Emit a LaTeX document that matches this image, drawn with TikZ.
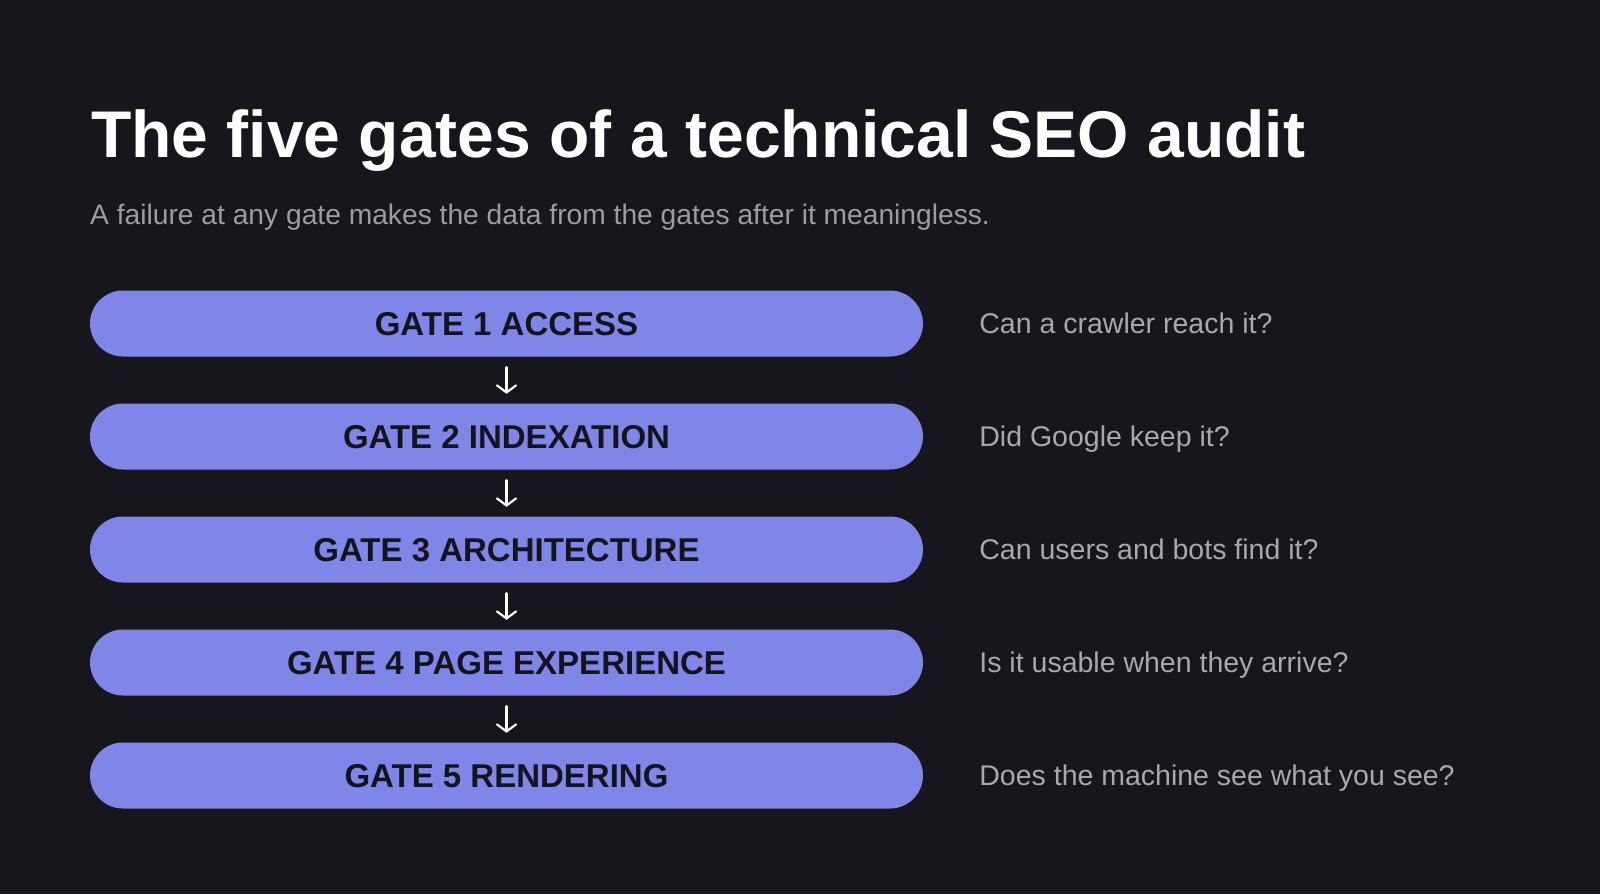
\documentclass[tikz,border=0pt]{standalone}
\usepackage{fontspec}
\setmainfont{Liberation Sans}
\usetikzlibrary{positioning,arrows.meta}

\definecolor{slidebg}{HTML}{16161C}
\definecolor{gatefill}{HTML}{8085E8}
\definecolor{gatetext}{HTML}{14141E}
\definecolor{subgray}{HTML}{9C9CA2}
\definecolor{hintgray}{HTML}{A8A8AE}

\tikzset{
    gatebox/.style={fill=gatefill, rounded corners=33pt, minimum width=833pt,
        minimum height=66pt, inner sep=0pt, text=gatetext,
        font=\fontsize{33}{36}\selectfont\bfseries,
        text height=23.6pt, text depth=0pt},
    hint/.style={anchor=base west, inner sep=0pt, text=hintgray,
        font=\fontsize{28.5}{32}\selectfont},
    flowarrow/.style={white, line width=2.2pt, line cap=round,
        -{Straight Barb[length=7pt,width=19pt,line cap=round]},
        shorten <=10.5pt, shorten >=9.5pt}
}

\begin{document}
\begin{tikzpicture}[x=1pt,y=-1pt]
    % Background
    \fill[slidebg] (0,0) rectangle (1600,894);
    \useasboundingbox (0,0) rectangle (1600,894);

    % Title and subtitle
    \node[anchor=base west, inner sep=0pt, text=white,
          font=\fontsize{66}{72}\selectfont\bfseries] (title) at (91,157)
          {The five gates of a technical SEO audit};
    \node[anchor=base west, inner sep=0pt, text=subgray,
          font=\fontsize{28.2}{31}\selectfont] (subtitle) at (90,224)
          {A failure at any gate makes the data from the gates after it meaningless.};

    % Gates and their questions
    \foreach \i/\lbl/\txt in {1/ACCESS/Can a crawler reach it?,
                              2/INDEXATION/Did Google keep it?,
                              3/ARCHITECTURE/Can users and bots find it?,
                              4/PAGE EXPERIENCE/Is it usable when they arrive?,
                              5/RENDERING/Does the machine see what you see?}
    {
        \node[gatebox] (g\i) at (506.5,{323.5+(\i-1)*113}) {GATE \i\ \lbl};
        \node[hint] (q\i) at ([xshift=56pt,yshift=-10pt]g\i.east) {\txt};
    }

    % Arrows between gates
    \foreach \i [evaluate=\i as \j using int(\i+1)] in {1,...,4}
        \draw[flowarrow] (g\i) -- (g\j);

\end{tikzpicture}
\end{document}
